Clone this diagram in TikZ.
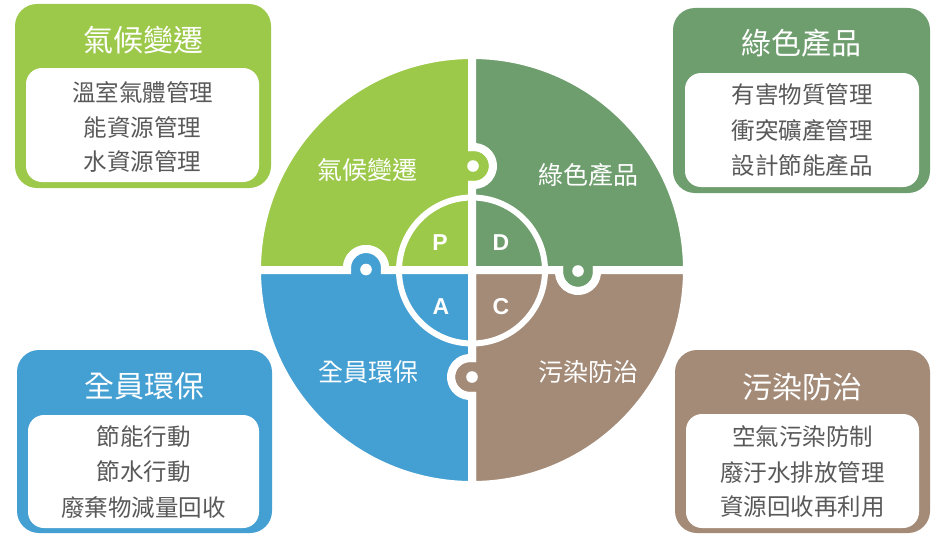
\documentclass[tikz,border=0pt]{standalone}
\usepackage{fontspec}
\newfontfamily\cjk{Noto Sans CJK TC}
\newfontfamily\latinb{Liberation Sans}
\definecolor{cgreen}{HTML}{9CC94A}
\definecolor{cdgreen}{HTML}{6E9D6E}
\definecolor{cblue}{HTML}{449FD2}
\definecolor{cbrown}{HTML}{A48B78}
\definecolor{ctext}{HTML}{595959}
\begin{document}
\begin{tikzpicture}[x=1pt,y=-1pt,
  piece/.style={draw=white,line width=8pt,line join=miter},
  outerbox/.style={rounded corners=22pt},
  innerbox/.style={fill=white,rounded corners=16pt},
  boxtitle/.style={text=white,font=\cjk\fontsize{30}{30}\selectfont,inner sep=0pt},
  boxitem/.style={text=ctext,font=\cjk\fontsize{23.5}{24}\selectfont,inner sep=0pt},
  qlabel/.style={text=white,font=\cjk\fontsize{25}{25}\selectfont,inner sep=0pt},
  letter/.style={text=white,font=\latinb\bfseries\fontsize{23}{23}\selectfont,inner sep=0pt},
  knobdot/.style={fill=white}]
\useasboundingbox (0,0) rectangle (941,535);

% puzzle pieces
\path[piece,fill=cgreen] (472,270) -- (472,184.89) arc[start angle=96.04,end angle=-96.04,radius=19]
  -- (472,55) arc[start angle=270,end angle=180,radius=215]
  -- (347.11,270) arc[start angle=173.96,end angle=366.04,radius=19] -- cycle;
\path[piece,fill=cdgreen] (472,270) -- (559.11,270) arc[start angle=186.04,end angle=-6.04,radius=19]
  -- (687,270) arc[start angle=360,end angle=270,radius=215]
  -- (472,147.11) arc[start angle=-96.04,end angle=96.04,radius=19] -- cycle;
\path[piece,fill=cbrown] (472,270) -- (472,358.11) arc[start angle=276.04,end angle=83.96,radius=19]
  -- (472,485) arc[start angle=90,end angle=0,radius=215]
  -- (596.89,270) arc[start angle=-6.04,end angle=186.04,radius=19] -- cycle;
\path[piece,fill=cblue] (472,270) -- (384.89,270) arc[start angle=6.04,end angle=-186.04,radius=19]
  -- (257,270) arc[start angle=180,end angle=90,radius=215]
  -- (472,395.89) arc[start angle=83.96,end angle=276.04,radius=19] -- cycle;

% knob dots
\fill[knobdot] (473,166) circle[radius=5.8];
\fill[knobdot] (366,269.5) circle[radius=5.8];
\fill[knobdot] (578,271) circle[radius=5.8];
\fill[knobdot] (472,377) circle[radius=5.8];

% inner ring
\draw[white,line width=6pt] (472,270.5) circle[radius=73];

% PDCA letters
\node[letter] (P) at (440,243) {P};
\node[letter] (D) at (501,243) {D};
\node[letter] (A) at (441,307) {A};
\node[letter] (C) at (501,307) {C};

% quadrant labels
\node[qlabel] (q1) at (367,170) {氣候變遷};
\node[qlabel] (q2) at (588,175) {綠色產品};
\node[qlabel] (q3) at (368,372) {全員環保};
\node[qlabel] (q4) at (588,372) {污染防治};

% top-left box
\fill[outerbox,cgreen] (15,4) rectangle (271,188);
\fill[innerbox] (26,68) rectangle (259,182);
\node[boxtitle] (t1) at (143,40) {氣候變遷};
\node[boxitem] (t1a) at (142.5,92) {溫室氣體管理};
\node[boxitem] (t1b) at (142.5,127) {能資源管理};
\node[boxitem] (t1c) at (142.5,161) {水資源管理};

% top-right box
\fill[outerbox,cdgreen] (673,8) rectangle (930,193);
\fill[innerbox] (685,73) rectangle (919,187);
\node[boxtitle] (t2) at (801.5,43) {綠色產品};
\node[boxitem] (t2a) at (802,95) {有害物質管理};
\node[boxitem] (t2b) at (802,131) {衝突礦產管理};
\node[boxitem] (t2c) at (802,166) {設計節能產品};

% bottom-left box
\fill[outerbox,cblue] (17,350) rectangle (272,533);
\fill[innerbox] (28,415) rectangle (259,528);
\node[boxtitle] (t3) at (144.5,386) {全員環保};
\node[boxitem] (t3a) at (143.5,437) {節能行動};
\node[boxitem] (t3b) at (143.5,472) {節水行動};
\node[boxitem] (t3c) at (143.5,507) {廢棄物減量回收};

% bottom-right box
\fill[outerbox,cbrown] (675,350) rectangle (930,533);
\fill[innerbox] (686,414) rectangle (919,528);
\node[boxtitle] (t4) at (802.5,387) {污染防治};
\node[boxitem] (t4a) at (802.5,437) {空氣污染防制};
\node[boxitem] (t4b) at (802.5,472) {廢汙水排放管理};
\node[boxitem] (t4c) at (802.5,507) {資源回收再利用};
\end{tikzpicture}
\end{document}
